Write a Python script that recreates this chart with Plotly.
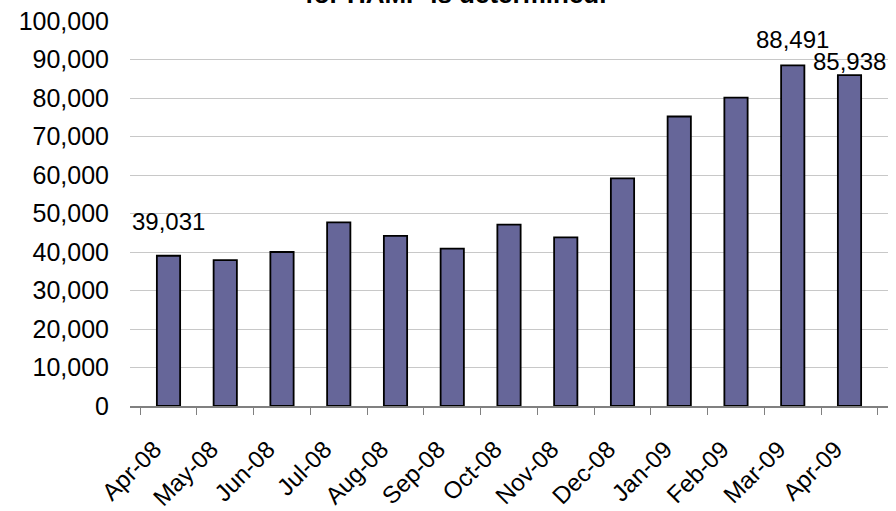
import plotly.graph_objects as go

# Monthly counts
months = ["Apr-08", "May-08", "Jun-08", "Jul-08", "Aug-08", "Sep-08", "Oct-08",
          "Nov-08", "Dec-08", "Jan-09", "Feb-09", "Mar-09", "Apr-09"]
counts = [39031, 37900, 40000, 47700, 44200, 40900, 47100,
          43800, 59100, 75200, 80100, 88491, 85938]

# Bars that carry a value label, with the vertical offset of each label (px)
labelled = ["Apr-08", "Mar-09", "Apr-09"]
label_offsets = [34, 26, 14]

y_ticks = list(range(0, 100001, 10000))
y_tick_text = [f"{v:,}" for v in y_ticks]

FONT = "Liberation Sans, Arial, sans-serif"

fig = go.Figure()
fig.add_trace(go.Bar(
    x=months,
    y=counts,
    marker=dict(color="#666699", line=dict(color="#000000", width=1.8)),
    hoverinfo="x+y",
))

value_of = dict(zip(months, counts))
for m, off in zip(labelled, label_offsets):
    fig.add_annotation(
        x=m, y=value_of[m], text=f"{value_of[m]:,}",
        showarrow=False, xanchor="center", yanchor="middle", yshift=off,
        font=dict(family=FONT, size=24, color="#000000"),
    )

# Second line of the chart title (sits at the very top edge)
fig.add_annotation(
    xref="paper", yref="paper", x=0.43, y=1.025,
    xanchor="center", yanchor="bottom",
    text="<b>for HAMP is determined.</b>", showarrow=False,
    font=dict(family=FONT, size=26, color="#000000"),
)

fig.update_layout(
    width=896, height=511,
    margin=dict(l=130, r=8, t=21, b=105),
    plot_bgcolor="#ffffff",
    paper_bgcolor="#ffffff",
    bargap=0.59,
    showlegend=False,
    font=dict(family=FONT, size=24, color="#000000"),
)

fig.update_xaxes(
    type="category",
    automargin=False,
    tickangle=-45,
    tickson="boundaries",
    ticks="outside", ticklen=7, tickcolor="#808080",
    showline=True, linecolor="#808080", linewidth=1.5,
    showgrid=False,
    ticklabelstandoff=18,
    ticklabelshift=-14,
    tickfont=dict(family=FONT, size=24, color="#000000"),
)

fig.update_yaxes(
    range=[0, 100000],
    automargin=False,
    tickvals=y_ticks, ticktext=y_tick_text,
    showgrid=True, gridcolor="#c8c8c8", gridwidth=1,
    zeroline=False, showline=False, ticks="",
    ticklabelstandoff=20,
    tickfont=dict(family=FONT, size=25, color="#000000"),
)

fig.write_html("out.html")
